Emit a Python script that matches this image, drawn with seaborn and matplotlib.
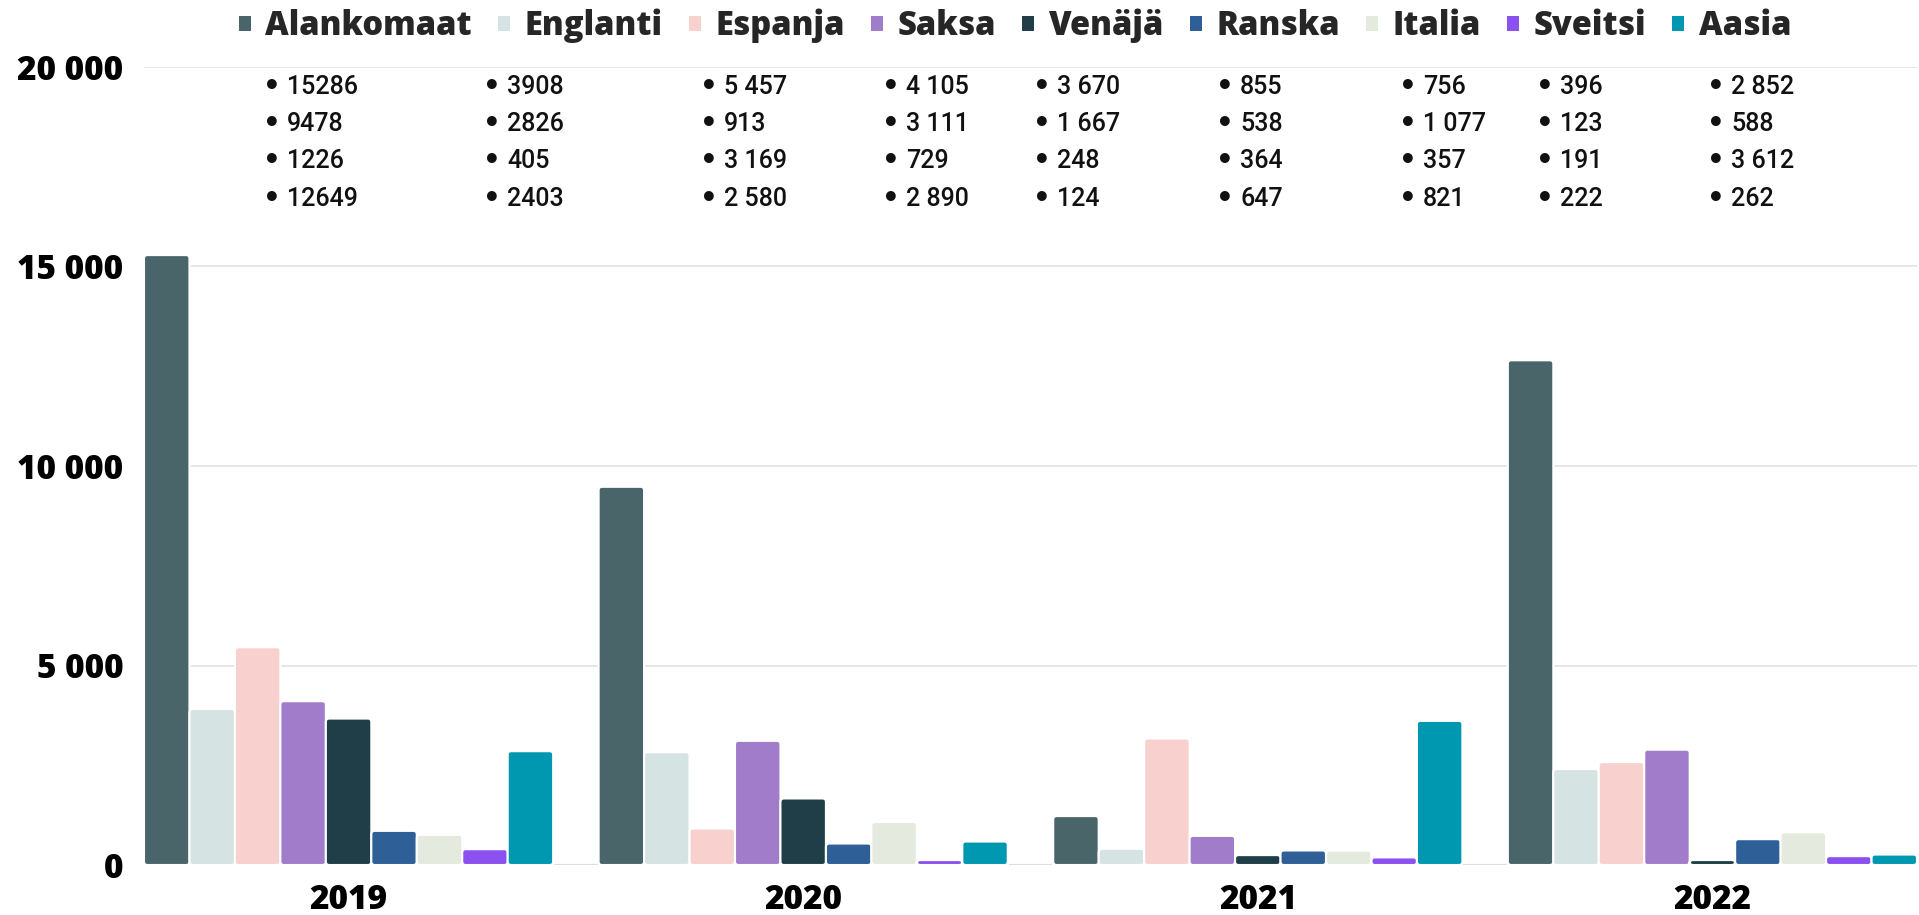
import matplotlib
matplotlib.use("Agg")
import matplotlib.pyplot as plt
import seaborn as sns
import pandas as pd
from matplotlib.patches import Patch, FancyBboxPatch, Rectangle
from matplotlib.ticker import FuncFormatter
from matplotlib.font_manager import FontProperties

# ---------------- data ----------------
years = ["2019", "2020", "2021", "2022"]
countries = ["Alankomaat", "Englanti", "Espanja", "Saksa", "Venäjä",
             "Ranska", "Italia", "Sveitsi", "Aasia"]
alankomaat = [15286, 9478, 1226, 12649]
englanti = [3908, 2826, 405, 2403]
espanja = [5457, 913, 3169, 2580]
saksa = [4105, 3111, 729, 2890]
venaja = [3670, 1667, 248, 124]
ranska = [855, 538, 364, 647]
italia = [756, 1077, 357, 821]
sveitsi = [396, 123, 191, 222]
aasia = [2852, 588, 3612, 262]
series = [alankomaat, englanti, espanja, saksa, venaja, ranska, italia, sveitsi, aasia]
# whether the value list under the legend uses a thousands separator
grouped_labels = [False, False, True, True, True, True, True, True, True]
y_ticks = [0, 5000, 10000, 15000, 20000]

colors = ["#4a6569", "#d6e3e3", "#f8d1cf", "#a17ccb", "#1f3e47",
          "#2f5f97", "#e5eadf", "#8a50f0", "#0097b1"]

df = pd.DataFrame([
    {"year": y, "country": c, "value": v}
    for c, vals in zip(countries, series)
    for y, v in zip(years, vals)
])

# ---------------- figure ----------------
W, H = 1919, 915
sns.set_theme(style="white")
plt.rcParams["font.family"] = ["Open Sans", "DejaVu Sans"]
fig = plt.figure(figsize=(W / 100, H / 100), dpi=100)
ax_l, ax_r, ax_b, ax_t = 144, 1917, 865, 67
ax = fig.add_axes([ax_l / W, 1 - ax_b / H, (ax_r - ax_l) / W, (ax_b - ax_t) / H])

sns.barplot(data=df, x="year", y="value", hue="country", order=years,
            hue_order=countries, palette=colors, saturation=1, width=0.9,
            edgecolor="white", linewidth=1.5, ax=ax, legend=False)

ax.set_xlim(-0.45, 3.45)
ax.set_ylim(0, 20000)

# rounded top corners on the bars
x_per_px = 3.9 / (ax_r - ax_l)
y_per_px = 20000 / (ax_b - ax_t)
aspect = y_per_px / x_per_px
rad = 3.5 * x_per_px
for p in list(ax.patches):
    if not isinstance(p, Rectangle):
        continue
    x, y = p.get_x(), p.get_y()
    w, h = p.get_width(), p.get_height()
    if h <= 0:
        continue
    fc = p.get_facecolor()
    fb = FancyBboxPatch((x, y), w, h,
                        boxstyle=f"round,pad=0,rounding_size={rad}",
                        mutation_aspect=aspect, facecolor=fc,
                        edgecolor="white", linewidth=1.5, zorder=p.get_zorder())
    ax.add_patch(fb)
    # keep square bottom corners
    p.set_height(h * 0.5)

ax.set_xlabel("")
ax.set_ylabel("")
ax.set_yticks(y_ticks)
ax.yaxis.set_major_formatter(FuncFormatter(lambda v, p: f"{int(v):,}".replace(",", " ")))
ax.grid(axis="y", color="#e2e2e2", linewidth=1.2)
ax.set_axisbelow(True)
for s in ax.spines.values():
    s.set_visible(False)
ax.axhline(0, color="#d0d0d0", linewidth=1.5, zorder=0)
ax.tick_params(axis="both", length=0)
ax.tick_params(axis="y", pad=15)
ax.tick_params(axis="x", pad=13)
for lab in ax.get_yticklabels() + ax.get_xticklabels():
    lab.set_fontfamily("Open Sans")
    lab.set_fontweight(800)
    lab.set_fontsize(24)
    lab.set_color("black")

# ---------------- legend ----------------
handles = [Patch(facecolor=c, edgecolor="none") for c in colors]
fig.legend(handles, countries, loc="center", bbox_to_anchor=(1015 / W, 1 - 26 / H),
           ncol=9, frameon=False, handlelength=0.36, handleheight=0.36,
           handletextpad=0.45, columnspacing=0.8, borderaxespad=0,
           prop=FontProperties(family="Open Sans", weight=800, size=23.5))

# ---------------- value lists ----------------
col_x = [263, 483, 700, 882, 1033, 1216, 1399, 1536, 1707]
row_y = [87, 124, 161, 199]
for i, vals in enumerate(series):
    for j, v in enumerate(vals):
        txt = f"{v:,}".replace(",", " ") if grouped_labels[i] else f"{v}"
        fig.text(col_x[i] / W, 1 - row_y[j] / H, "•", ha="left", va="center",
                 fontsize=20, fontweight="bold", family=["DejaVu Sans"], color="#111111")
        fig.text((col_x[i] + 24) / W, 1 - row_y[j] / H, txt, ha="left", va="center",
                 fontsize=18, fontweight=500, family=["Roboto", "DejaVu Sans"], color="#111111")

fig.savefig("out.png", dpi=100, facecolor="white")
